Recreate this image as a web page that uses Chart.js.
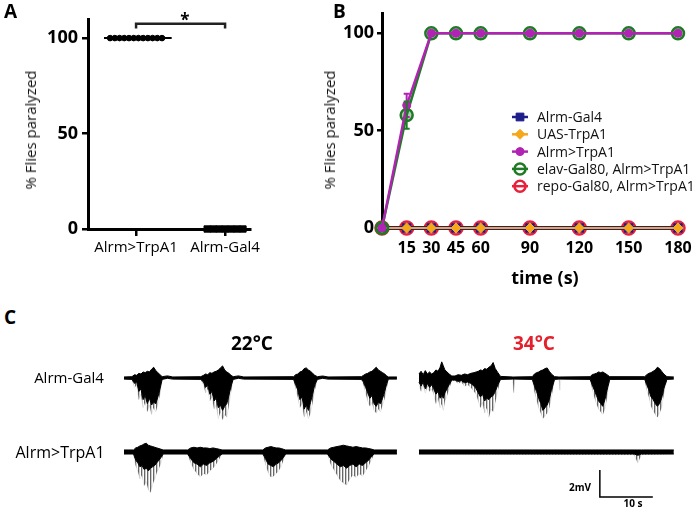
<!DOCTYPE html>
<html lang="en">
<head>
<meta charset="UTF-8">
<title>Alrm>TrpA1 paralysis</title>
<script src="https://cdn.jsdelivr.net/npm/chart.js"></script>
<style>
  body { margin: 0; background: #fff; font-family: 'Open Sans', sans-serif; color: #000; }
  #fig { position: relative; width: 700px; height: 510px; overflow: hidden; }
  canvas { position: absolute; }
  .lbl { position: absolute; white-space: nowrap; transform: translate(-50%, -50%); }
  .panel { position: absolute; font-weight: 700; font-size: 19px; line-height: 1; }
  .ytitle { position: absolute; font-size: 15px; color: #111; white-space: nowrap; transform: translate(-50%, -50%) rotate(-90deg); }
</style>
</head>
<body>
<div id="fig">
  <canvas id="chartA" width="300" height="270" style="left:0;top:0"></canvas>
  <canvas id="chartB" width="400" height="300" style="left:300px;top:0"></canvas>
  <canvas id="chartC" width="700" height="180" style="left:0;top:330px"></canvas>

  <div class="panel" style="left:4px;top:2px">A</div>
  <div class="panel" style="left:333px;top:2px">B</div>
  <div class="panel" style="left:4px;top:308px">C</div>

  <div class="ytitle" style="left:30px;top:130px">% Flies paralyzed</div>
  <div class="ytitle" style="left:329px;top:130px">% Flies paralyzed</div>
  <div class="lbl" style="left:185px;top:19px;font-weight:700;font-size:17px">*</div>
  <div class="lbl" style="left:545px;top:277px;font-weight:700;font-size:18px">time (s)</div>

  <div class="lbl" style="left:252px;top:343px;font-weight:700;font-size:19px">22°C</div>
  <div class="lbl" style="left:534px;top:343px;font-weight:700;font-size:19px;color:#e3202c">34°C</div>
  <div class="lbl" style="left:69px;top:377px;font-size:15px">Alrm-Gal4</div>
  <div class="lbl" style="left:60px;top:452px;font-size:16px">Alrm&gt;TrpA1</div>
  <div class="lbl" style="left:580px;top:487px;font-weight:700;font-size:10px">2mV</div>
  <div class="lbl" style="left:633px;top:503px;font-weight:700;font-size:10px">10 s</div>
</div>

<script>
// ---- panel A: % flies paralyzed per vial ----
const groupsA = ['Alrm>TrpA1', 'Alrm-Gal4'];
const alrmTrpA1Vials = [100, 100, 100, 100, 100, 100, 100, 100, 100, 100, 100, 100];
const alrmGal4Vials = [0, 0, 0, 0, 0, 0, 0];
const yTicks = [0, 50, 100];

// ---- panel B: time course ----
const timeS = [0, 15, 30, 45, 60, 90, 120, 150, 180];
const xTicksB = [15, 30, 45, 60, 90, 120, 150, 180];
const bAlrmGal4 = [0, 0, 0, 0, 0, 0, 0, 0, 0];
const bUasTrpA1 = [0, 0, 0, 0, 0, 0, 0, 0, 0];
const bAlrmTrpA1 = [0, 63, 100, 100, 100, 100, 100, 100, 100];
const bAlrmTrpA1Sem = [0, 6, 0, 0, 0, 0, 0, 0, 0];
const bElavGal80 = [0, 58, 100, 100, 100, 100, 100, 100, 100];
const bElavGal80Sem = [0, 7, 0, 0, 0, 0, 0, 0, 0];
const bRepoGal80 = [0, 0, 0, 0, 0, 0, 0, 0, 0];

// ---- panel C: trace envelopes, time (s) and mV (top edge, dense core, sparse spikes) ----
const c22Gal4T = [0,
  1.5,2.0,2.4,2.8,3.2,3.6,4.0,4.4,4.8,5.2,5.6,6.0,6.4,6.8,7.2,
  8.2,9.2,
  14.5,15.0,15.4,15.8,16.2,16.6,17.0,17.4,17.8,18.2,18.6,19.0,19.4,19.8,20.2,20.6,
  21.6,22.6,
  32.0,32.4,32.8,33.2,33.6,34.0,34.4,34.8,35.2,35.6,36.0,36.5,
  37.5,38.5,
  44.8,45.2,45.6,46.0,46.4,46.8,47.2,47.6,48.0,48.4,48.8,49.2,49.6,49.9,
  51.5];
const c22Gal4Top = [.08,
  .1,.25,.2,.35,.3,.45,.4,.5,.45,.65,.8,.55,.4,.25,.1,
  .16,.08,
  .1,.2,.3,.25,.4,.35,.45,.5,.6,.75,.9,.6,.45,.35,.2,.1,
  .16,.08,
  .1,.25,.3,.45,.5,.7,.75,.6,.5,.35,.2,.1,
  .15,.08,
  .1,.2,.3,.35,.45,.5,.65,.8,.6,.5,.4,.3,.15,.08,
  .08];
const c22Gal4Core = [-.08,
  -.1,-.4,-.3,-1.0,-.8,-1.6,-1.3,-1.9,-1.5,-2.0,-1.8,-1.9,-1.4,-.8,-.1,
  -.02,-.08,
  -.1,-.3,-.7,-.5,-1.2,-1.0,-1.7,-1.5,-2.2,-2.0,-2.4,-2.1,-1.9,-1.3,-.6,-.1,
  -.02,-.08,
  -.1,-.5,-.9,-1.6,-1.4,-2.3,-2.0,-2.4,-1.8,-1.2,-.5,-.1,
  -.02,-.08,
  -.1,-.3,-.7,-1.1,-1.5,-1.3,-1.9,-2.1,-1.8,-1.9,-1.5,-1.0,-.4,-.08,
  -.08];
const c22Gal4Spikes = [-.08,
  -.1,-.7,-.5,-1.6,-1.2,-2.2,-1.8,-2.5,-2.0,-2.7,-2.2,-2.5,-1.9,-1.2,-.1,
  -.02,-.08,
  -.1,-.5,-1.1,-.8,-1.7,-1.4,-2.3,-2.0,-3.0,-2.5,-3.1,-2.7,-2.9,-2.0,-1.0,-.1,
  -.02,-.08,
  -.1,-.8,-1.4,-2.2,-1.9,-2.9,-2.5,-3.0,-2.6,-1.8,-.9,-.1,
  -.02,-.08,
  -.1,-.5,-1.1,-1.7,-2.1,-1.8,-2.4,-2.6,-2.3,-2.5,-2.0,-1.5,-.7,-.08,
  -.08];

const c34Gal4T = [0,.4,.8,1.2,1.6,2.0,2.4,
  2.8,3.2,3.6,4.0,4.3,4.6,4.9,5.3,5.7,6.2,
  6.8,7.4,8.0,8.6,9.2,9.8,10.4,
  10.8,11.2,11.6,12.0,12.4,12.8,13.2,13.6,14.0,14.4,14.9,15.4,
  17.7,17.9,18.1,
  21.4,21.8,22.2,22.6,23.0,23.4,23.8,24.2,24.6,25.0,25.6,
  26.4,26.6,26.8,
  32.3,32.7,33.1,33.5,33.9,34.3,34.7,35.1,35.5,36.0,
  42.6,43.0,43.4,43.8,44.2,44.6,45.0,45.4,45.8,46.2,46.8,
  48.1];
const c34Gal4Top = [.3,.5,.25,.55,.3,.45,.3,
  .4,.6,.5,.8,1.2,.9,.6,.45,.3,.15,
  .15,.25,.2,.3,.25,.35,.4,
  .45,.5,.6,.55,.7,.65,.8,.9,1.15,.7,.4,.12,
  .08,.08,.08,
  .1,.3,.4,.45,.55,.6,.7,.75,.5,.3,.1,
  .08,.08,.08,
  .1,.25,.3,.35,.45,.4,.45,.35,.25,.1,
  .1,.25,.35,.4,.5,.6,.8,.7,.5,.3,.1,
  .08];
const c34Gal4Core = [-.3,-.6,-.3,-.8,-.4,-.7,-.5,
  -.8,-1.2,-1.0,-1.5,-1.3,-1.5,-1.1,-.8,-.5,-.15,
  -.15,-.25,-.2,-.35,-.3,-.4,-.6,
  -.8,-1.1,-1.4,-1.2,-1.7,-1.5,-1.6,-1.4,-1.3,-1.0,-.5,-.1,
  -.08,-.08,-.08,
  -.1,-.6,-1.0,-1.5,-1.9,-2.4,-2.2,-2.0,-1.6,-.9,-.1,
  -.08,-.08,-.08,
  -.1,-.5,-.9,-1.3,-1.7,-1.9,-2.1,-1.6,-.9,-.1,
  -.1,-.5,-.9,-1.4,-1.6,-1.9,-2.1,-1.9,-1.5,-.8,-.1,
  -.08];
const c34Gal4Spikes = [-.5,-1.0,-.5,-1.1,-.6,-1.0,-.8,
  -1.2,-1.9,-1.5,-2.2,-1.9,-2.4,-1.7,-1.3,-.8,-.2,
  -.2,-.4,-.3,-.6,-.5,-.7,-1.0,
  -1.2,-1.7,-2.2,-1.8,-2.6,-2.2,-2.9,-2.3,-2.5,-1.8,-.9,-.1,
  -.08,-1.1,-.08,
  -.1,-1.0,-1.6,-2.2,-2.6,-3.0,-2.8,-2.6,-2.2,-1.4,-.1,
  -.08,-.9,-.08,
  -.1,-.8,-1.4,-1.9,-2.3,-2.5,-2.7,-2.3,-1.4,-.1,
  -.1,-.9,-1.4,-2.1,-2.4,-2.7,-2.9,-2.6,-2.2,-1.2,-.1,
  -.08];

const c22TrpT = [0,
  1.8,2.2,2.6,3.0,3.4,3.8,4.2,4.6,5.0,5.4,5.8,6.2,6.6,7.0,7.4,
  12.0,12.6,13.2,13.8,14.4,15.0,15.6,16.2,16.8,17.4,18.0,18.5,
  26.2,26.7,27.2,27.7,28.2,28.7,29.2,29.7,30.1,30.5,
  38.4,39.0,39.6,40.2,40.8,41.4,42.0,42.6,43.2,43.8,44.4,45.0,45.6,46.2,46.8,47.2,
  51.5];
const c22TrpTop = [.15,
  .15,.3,.35,.45,.5,.6,.65,.5,.45,.4,.35,.3,.25,.2,.15,
  .15,.3,.35,.3,.35,.3,.3,.25,.3,.25,.2,.15,
  .15,.3,.35,.4,.35,.3,.3,.25,.2,.15,
  .15,.3,.35,.4,.45,.5,.45,.4,.35,.4,.35,.3,.3,.25,.2,.15,
  .15];
const c22TrpCore = [-.15,
  -.15,-.6,-.8,-1.1,-1.0,-1.3,-1.2,-1.4,-1.2,-1.1,-1.0,-.8,-.6,-.4,-.15,
  -.15,-.5,-.8,-.9,-1.1,-.9,-1.0,-.8,-.7,-.5,-.3,-.15,
  -.15,-.5,-.9,-1.0,-1.1,-.9,-.8,-.6,-.4,-.15,
  -.15,-.5,-.7,-.9,-1.1,-1.0,-1.2,-1.0,-.9,-1.1,-.9,-1.0,-.8,-.6,-.3,-.15,
  -.15];
const c22TrpSpikes = [-.15,
  -.15,-1.0,-1.4,-2.0,-1.7,-2.5,-2.2,-2.8,-3.0,-2.4,-2.0,-1.5,-1.2,-.8,-.15,
  -.15,-.8,-1.3,-1.6,-1.85,-1.6,-1.7,-1.4,-1.2,-.9,-.5,-.15,
  -.15,-.9,-1.5,-1.85,-1.8,-1.6,-1.4,-1.0,-.6,-.15,
  -.15,-.9,-1.3,-1.7,-2.1,-2.3,-2.45,-2.0,-1.7,-1.9,-1.6,-1.8,-1.4,-1.0,-.5,-.15,
  -.15];

const c34TrpT = [0, 40.6, 41.3, 42.0, 48.1];
const c34TrpTop = [.15, .15, .15, .15, .15];
const c34TrpCore = [-.15, -.15, -.25, -.15, -.15];
const c34TrpSpikes = [-.15, -.2, -.8, -.2, -.15];

const scaleBarSec = 10;
const scaleBarMv = 2;

const FONT = "'Open Sans', sans-serif";

// ---------- panel A ----------
function spread(values, center, step) {
  const n = values.length;
  return values.map((v, i) => ({ x: center + (i - (n - 1) / 2) * step, y: v }));
}
const mean = a => a.reduce((s, v) => s + v, 0) / a.length;

new Chart(document.getElementById('chartA'), {
  type: 'scatter',
  data: {
    datasets: [
      { data: [{ x: -0.36, y: mean(alrmTrpA1Vials) }, { x: 0.4, y: mean(alrmTrpA1Vials) }],
        showLine: true, pointRadius: 0, borderColor: '#000', borderWidth: 2 },
      { data: spread(alrmTrpA1Vials, 0, 0.053), pointStyle: 'circle', pointRadius: 2.8,
        backgroundColor: '#000', borderColor: '#000', clip: false },
      { data: spread(alrmGal4Vials, 1, 0.067), pointStyle: 'rect', pointRadius: 4.5,
        backgroundColor: '#000', borderColor: '#000', clip: false },
      { data: [{ x: 0, y: 105 }, { x: 0, y: 107.5 }, { x: 1, y: 107.5 }, { x: 1, y: 105 }],
        showLine: true, pointRadius: 0, borderColor: '#222', borderWidth: 2.5 }
    ]
  },
  options: {
    responsive: false, animation: false,
    layout: { padding: { top: 19, right: 50, left: 0, bottom: 0 } },
    plugins: { legend: { display: false }, tooltip: { enabled: false } },
    scales: {
      x: {
        type: 'linear', min: -0.54, max: 1.28,
        afterFit: s => { s.height = 41; },
        afterBuildTicks: s => { s.ticks = groupsA.map((_, i) => ({ value: i })); },
        border: { display: true, color: '#000', width: 3 },
        grid: { drawOnChartArea: false, drawTicks: true, tickLength: 7, color: '#000', lineWidth: 2.5 },
        ticks: { callback: v => groupsA[v], color: '#000', padding: 3, font: { family: FONT, size: 15 } }
      },
      y: {
        min: 0, max: 110,
        afterFit: s => { s.width = 88; },
        afterBuildTicks: s => { s.ticks = yTicks.map(v => ({ value: v })); },
        border: { display: true, color: '#000', width: 3 },
        grid: { drawOnChartArea: false, drawTicks: true, tickLength: 6, color: '#000', lineWidth: 2.5 },
        ticks: { color: '#000', padding: 4, font: { family: FONT, size: 18, weight: 'bold' } }
      }
    }
  }
});

// ---------- panel B ----------
const pts = (xs, ys) => xs.map((x, i) => ({ x: x, y: ys[i] }));

const errorBars = {
  id: 'errorBars',
  afterDatasetsDraw(chart) {
    const ctx = chart.ctx, ys = chart.scales.y;
    chart.data.datasets.forEach((ds, i) => {
      if (!ds.sem) return;
      const meta = chart.getDatasetMeta(i);
      ctx.save();
      ctx.strokeStyle = ds.borderColor;
      ctx.lineWidth = 2;
      meta.data.forEach((p, j) => {
        const e = ds.sem[j];
        if (!e) return;
        const v = ds.data[j].y;
        const y1 = ys.getPixelForValue(v + e), y2 = ys.getPixelForValue(v - e);
        ctx.beginPath();
        ctx.moveTo(p.x, y1); ctx.lineTo(p.x, y2);
        ctx.moveTo(p.x - 3, y1); ctx.lineTo(p.x + 3, y1);
        ctx.moveTo(p.x - 3, y2); ctx.lineTo(p.x + 3, y2);
        ctx.stroke();
      });
      ctx.restore();
    });
  }
};

const legendB = {
  id: 'legendB',
  afterDraw(chart) {
    const ctx = chart.ctx;
    const mx = 220, y0 = 117, dy = 17.3;
    chart.data.datasets.forEach((ds, i) => {
      const y = y0 + i * dy;
      ctx.save();
      ctx.strokeStyle = ds.borderColor;
      ctx.lineWidth = 2.5;
      ctx.beginPath(); ctx.moveTo(mx - 8, y); ctx.lineTo(mx + 8, y); ctx.stroke();
      ctx.fillStyle = ds.open ? '#fff' : ds.pointBackgroundColor;
      ctx.strokeStyle = ds.pointBorderColor;
      ctx.lineWidth = ds.pointBorderWidth;
      Chart.helpers.drawPoint(ctx, { pointStyle: ds.pointStyle, rotation: 0,
        radius: Math.min(ds.pointRadius, 5.5), borderWidth: ds.pointBorderWidth }, mx, y);
      if (ds.open) { ctx.beginPath(); ctx.moveTo(mx - 5, y); ctx.lineTo(mx + 5, y); ctx.stroke(); }
      ctx.fillStyle = '#111';
      ctx.font = '14px ' + FONT;
      ctx.textBaseline = 'middle';
      ctx.fillText(ds.label, 237, y + 1);
      ctx.restore();
    });
  }
};

function seriesB(label, values, color, style, opts) {
  return Object.assign({
    label: label, data: pts(timeS, values), borderColor: color, borderWidth: 2,
    pointStyle: style, pointRadius: 5, pointBackgroundColor: color, pointBorderColor: color,
    pointBorderWidth: 1, fill: false, tension: 0, clip: false
  }, opts);
}

new Chart(document.getElementById('chartB'), {
  type: 'line',
  data: {
    datasets: [
      seriesB('Alrm-Gal4', bAlrmGal4, '#1d1d8c', 'rect', { borderWidth: 4, pointRadius: 6, order: 4 }),
      seriesB('UAS-TrpA1', bUasTrpA1, '#f5a81c', 'rectRot', { pointRadius: 5, order: 3 }),
      seriesB('Alrm>TrpA1', bAlrmTrpA1, '#b023b3', 'circle', { borderWidth: 2.5, pointRadius: 4, order: 1, sem: bAlrmTrpA1Sem }),
      seriesB('elav-Gal80, Alrm>TrpA1', bElavGal80, '#1e7a25', 'circle',
        { borderWidth: 2.5, pointRadius: 6, pointBorderWidth: 2.5, pointBackgroundColor: 'rgba(30,122,37,0.35)', open: true, order: 2, sem: bElavGal80Sem }),
      seriesB('repo-Gal80, Alrm>TrpA1', bRepoGal80, '#e8203b', 'circle',
        { borderWidth: 2, pointRadius: 6.5, pointBorderWidth: 2.5, pointBackgroundColor: 'rgba(0,0,0,0)', open: true, order: 5 })
    ]
  },
  options: {
    responsive: false, animation: false,
    layout: { padding: { top: 13, right: 10, left: 0, bottom: 0 } },
    plugins: { legend: { display: false }, tooltip: { enabled: false } },
    scales: {
      x: {
        type: 'linear', min: 0, max: 187.3,
        afterFit: s => { s.height = 72; },
        afterBuildTicks: s => { s.ticks = xTicksB.map(v => ({ value: v })); },
        border: { display: false },
        grid: { drawOnChartArea: false, drawTicks: true, tickLength: 9, color: 'rgba(0,0,0,0)' },
        ticks: { color: '#000', padding: 2, maxRotation: 0, autoSkip: false, font: { family: FONT, size: 16, weight: 'bold' } }
      },
      y: {
        min: 0, max: 110,
        afterFit: s => { s.width = 82; },
        afterBuildTicks: s => { s.ticks = yTicks.map(v => ({ value: v })); },
        border: { display: true, color: '#000', width: 3 },
        grid: { drawOnChartArea: false, drawTicks: true, tickLength: 5, color: '#000', lineWidth: 2.5 },
        ticks: { color: '#000', padding: 3, font: { family: FONT, size: 18, weight: 'bold' } }
      }
    }
  },
  plugins: [errorBars, legendB]
});

// ---------- panel C ----------
const rowGal4 = 5.48;   // vertical offset of the Alrm-Gal4 row (mV)
const col34 = 55.66;    // horizontal offset of the 34 °C column (s)

// vertical streak texture for the sparse spike region
const streakCanvas = document.createElement('canvas');
streakCanvas.width = 3; streakCanvas.height = 4;
const sctx = streakCanvas.getContext('2d');
sctx.fillStyle = 'rgba(0,0,0,0.6)'; sctx.fillRect(0, 0, 1, 4);
sctx.fillStyle = 'rgba(0,0,0,0.2)'; sctx.fillRect(1, 0, 1, 4);
const streaks = sctx.createPattern(streakCanvas, 'repeat');

function trace(t, top, core, spikes, dx, dy) {
  const p = v => t.map((x, i) => ({ x: x + dx, y: v[i] + dy }));
  return [
    { data: p(top), borderColor: '#000', borderWidth: 1, pointRadius: 0, fill: false },
    { data: p(core), borderColor: '#000', borderWidth: 1, pointRadius: 0, fill: '-1', backgroundColor: '#000' },
    { data: p(spikes), borderColor: 'rgba(0,0,0,0.15)', borderWidth: 0.6, pointRadius: 0, fill: '-1', backgroundColor: streaks }
  ];
}

const barX = 89.8, barY = -1.33;
new Chart(document.getElementById('chartC'), {
  type: 'line',
  data: {
    datasets: [
      ...trace(c22Gal4T, c22Gal4Top, c22Gal4Core, c22Gal4Spikes, 0, rowGal4),
      ...trace(c34Gal4T, c34Gal4Top, c34Gal4Core, c34Gal4Spikes, col34, rowGal4),
      ...trace(c22TrpT, c22TrpTop, c22TrpCore, c22TrpSpikes, 0, 0),
      ...trace(c34TrpT, c34TrpTop, c34TrpCore, c34TrpSpikes, col34, 0),
      { data: [{ x: barX, y: barY }, { x: barX, y: barY - scaleBarMv }, { x: barX + scaleBarSec, y: barY - scaleBarMv }],
        borderColor: '#000', borderWidth: 1.5, pointRadius: 0, fill: false }
    ]
  },
  options: {
    responsive: false, animation: false,
    layout: { padding: 0 },
    plugins: { legend: { display: false }, tooltip: { enabled: false } },
    scales: {
      x: { type: 'linear', display: false, min: -23.4, max: 108.7 },
      y: { display: false, min: -4.3, max: 9.04 }
    }
  }
});
</script>
</body>
</html>
